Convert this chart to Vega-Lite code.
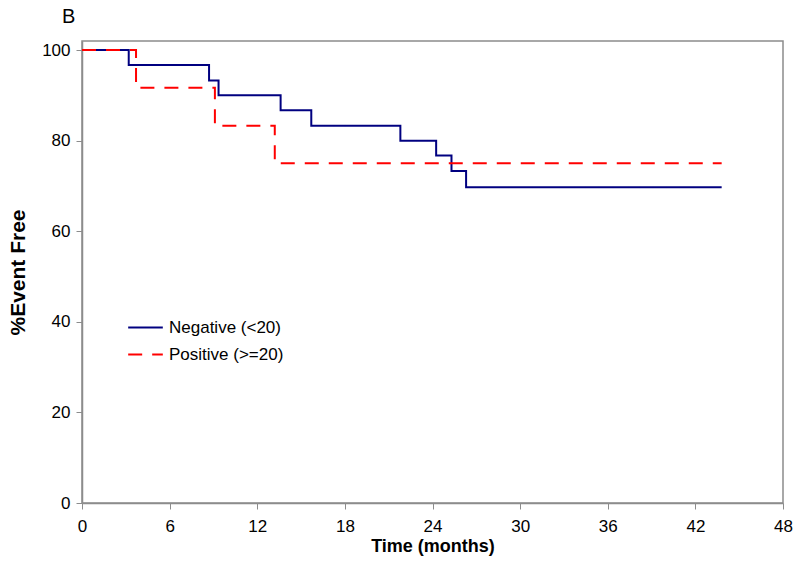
{
  "$schema": "https://vega.github.io/schema/vega-lite/v6.json",
  "autosize": {"type": "none"},
  "padding": {"left": 82, "top": 41, "right": 17, "bottom": 72},
  "width": 701,
  "height": 462,
  "background": "white",
  "title": {
    "text": "B",
    "anchor": "start",
    "frame": "group",
    "dx": -20,
    "offset": -2,
    "baseline": "alphabetic",
    "fontSize": 20,
    "fontWeight": "normal",
    "font": "Liberation Sans",
    "color": "#000"
  },
  "config": {
    "font": "Liberation Sans",
    "view": {"stroke": "#8c8c8c", "strokeWidth": 1.5},
    "axis": {
      "grid": false,
      "domainColor": "#8c8c8c",
      "domainWidth": 1.5,
      "tickColor": "#8c8c8c",
      "tickSize": 6,
      "labelFont": "Liberation Sans",
      "labelFontSize": 17,
      "labelColor": "#000",
      "titleFont": "Liberation Sans",
      "titleFontSize": 18,
      "titleFontWeight": "bold",
      "titleColor": "#000"
    }
  },
  "data": {
    "values": [
      {"group": "Negative (<20)", "time": 0, "pct": 100},
      {"group": "Negative (<20)", "time": 3.2, "pct": 96.7},
      {"group": "Negative (<20)", "time": 8.7, "pct": 93.3},
      {"group": "Negative (<20)", "time": 9.35, "pct": 90.0},
      {"group": "Negative (<20)", "time": 13.6, "pct": 86.7},
      {"group": "Negative (<20)", "time": 15.7, "pct": 83.3},
      {"group": "Negative (<20)", "time": 21.8, "pct": 80.0},
      {"group": "Negative (<20)", "time": 24.25, "pct": 76.7},
      {"group": "Negative (<20)", "time": 25.3, "pct": 73.3},
      {"group": "Negative (<20)", "time": 26.3, "pct": 69.7},
      {"group": "Negative (<20)", "time": 43.8, "pct": 69.7},
      {"group": "Positive (>=20)", "time": 0, "pct": 100},
      {"group": "Positive (>=20)", "time": 3.7, "pct": 91.7},
      {"group": "Positive (>=20)", "time": 9.1, "pct": 83.3},
      {"group": "Positive (>=20)", "time": 13.2, "pct": 75.0},
      {"group": "Positive (>=20)", "time": 43.8, "pct": 75.0}
    ]
  },
  "mark": {"type": "line", "interpolate": "step-after", "strokeWidth": 2},
  "encoding": {
    "x": {
      "field": "time",
      "type": "quantitative",
      "scale": {"domain": [0, 48], "nice": false, "zero": false},
      "axis": {"values": [0, 6, 12, 18, 24, 30, 36, 42, 48], "title": "Time (months)", "labelPadding": 9, "titlePadding": 3, "labelFlush": false}
    },
    "y": {
      "field": "pct",
      "type": "quantitative",
      "scale": {"domain": [0, 102], "nice": false},
      "axis": {"values": [0, 20, 40, 60, 80, 100], "title": "%Event Free", "labelPadding": 6, "titlePadding": 13, "titleFontSize": 21}
    },
    "color": {
      "field": "group",
      "type": "nominal",
      "scale": {"domain": ["Negative (<20)", "Positive (>=20)"], "range": ["#000080", "#ff0000"]},
      "legend": {
        "title": null,
        "orient": "none",
        "legendX": 45,
        "legendY": 268,
        "padding": 0,
        "symbolType": "stroke",
        "symbolSize": 1200,
        "symbolStrokeWidth": 2,
        "labelFontSize": 17,
        "labelColor": "#000",
        "labelOffset": 5,
        "rowPadding": -7
      }
    },
    "strokeDash": {
      "field": "group",
      "type": "nominal",
      "scale": {"domain": ["Negative (<20)", "Positive (>=20)"], "range": [[1, 0], [14, 10]]},
      "legend": null
    }
  }
}
